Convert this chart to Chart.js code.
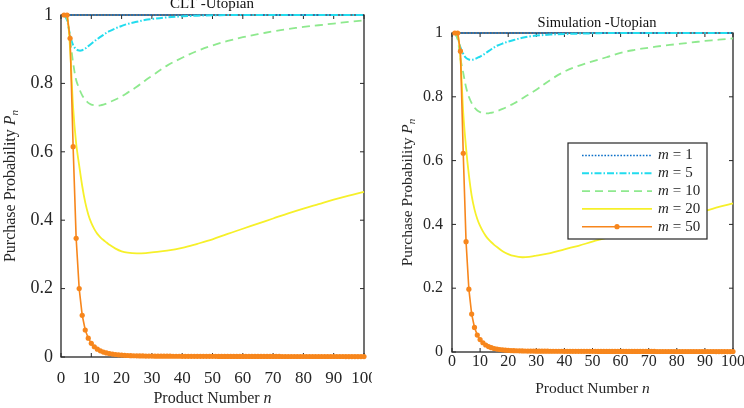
<!DOCTYPE html>
<html><head><meta charset="utf-8">
<script src="https://cdn.jsdelivr.net/npm/chart.js@4"></script>
<style>
html,body{margin:0;padding:0;background:#fff;width:744px;height:408px;overflow:hidden;position:relative;}
canvas{position:absolute;top:0;}
#c1{left:0;} #c2{left:380px;}
</style></head><body>
<canvas id="c1" width="372" height="408"></canvas>
<canvas id="c2" width="364" height="408"></canvas>
<script>
// ---------------- DATA ----------------
const xTickValues = [0,10,20,30,40,50,60,70,80,90,100];
const yTickValues = [0,0.2,0.4,0.6,0.8,1];
const yTickLabels = ['0','0.2','0.4','0.6','0.8','1'];
const legendM = ['1','5','10','20','50'];
const chartTitles = ['CLT -Utopian','Simulation -Utopian'];

// product numbers for the smooth curves
const nSmooth = [1,2,3,4,5,6,7,8,9,10,11,12,13,14,15,16,18,20,22,25,28,30,35,40,45,50,55,60,65,70,75,80,85,90,95,100];
// product numbers for the marked m=50 curve
const nAll = [1,2,3,4,5,6,7,8,9,10,11,12,13,14,15,16,17,18,19,20,21,22,23,24,25,26,27,28,29,30,
  31,32,33,34,35,36,37,38,39,40,41,42,43,44,45,46,47,48,49,50,51,52,53,54,55,56,57,58,59,60,
  61,62,63,64,65,66,67,68,69,70,71,72,73,74,75,76,77,78,79,80,81,82,83,84,85,86,87,88,89,90,
  91,92,93,94,95,96,97,98,99,100];

// CLT - Utopian
const cltM1  = [1,1,1,1,1,1,1,1,1,1,1,1,1,1,1,1,1,1,1,1,1,1,1,1,1,1,1,1,1,1,1,1,1,1,1,1];
const cltM5  = [1,0.985,0.94,0.912,0.9,0.896,0.897,0.902,0.909,0.916,0.923,0.93,0.936,0.942,0.948,0.953,0.961,0.968,0.974,0.98,0.986,0.988,0.993,0.996,0.998,0.999,1,1,1,1,1,1,1,1,1,1];
const cltM10 = [1,0.99,0.93,0.86,0.81,0.785,0.765,0.752,0.743,0.738,0.736,0.735,0.736,0.738,0.741,0.745,0.753,0.762,0.773,0.79,0.81,0.822,0.852,0.875,0.895,0.911,0.924,0.935,0.944,0.952,0.959,0.965,0.97,0.975,0.98,0.984];
const cltM20 = [1,1,0.9,0.73,0.625,0.56,0.5,0.452,0.417,0.392,0.374,0.36,0.35,0.342,0.335,0.328,0.317,0.309,0.305,0.303,0.304,0.306,0.311,0.319,0.331,0.344,0.36,0.375,0.39,0.405,0.42,0.434,0.447,0.46,0.472,0.483];
const cltM50 = [1,1,0.932,0.615,0.347,0.2,0.122,0.079,0.055,0.04,0.03,0.023,0.018,0.0145,0.012,0.01,0.0085,0.0073,0.0063,0.0055,
  0.0049,0.0044,0.004,0.0037,0.0034,0.0032,0.003,0.0028,0.0027,0.0026,0.0025,0.0025,0.0024,0.0024,0.0023,0.0023,0.0022,0.0022,0.0022,0.0021,
  0.0021,0.0021,0.002,0.002,0.002,0.002,0.0019,0.0019,0.0019,0.0019,0.0019,0.0018,0.0018,0.0018,0.0018,0.0018,0.0018,0.0017,0.0017,0.0017,
  0.0017,0.0017,0.0017,0.0017,0.0016,0.0016,0.0016,0.0016,0.0016,0.0016,0.0016,0.0016,0.0015,0.0015,0.0015,0.0015,0.0015,0.0015,0.0015,0.0015,
  0.0015,0.0015,0.0014,0.0014,0.0014,0.0014,0.0014,0.0014,0.0014,0.0014,0.0014,0.0014,0.0014,0.0013,0.0013,0.0013,0.0013,0.0013,0.0013,0.0013];

// Simulation - Utopian
const simM1  = [1,1,1,1,1,1,1,1,1,1,1,1,1,1,1,1,1,1,1,1,1,1,1,1,1,1,1,1,1,1,1,1,1,1,1,1];
const simM5  = [1,0.985,0.955,0.935,0.922,0.917,0.916,0.918,0.922,0.926,0.931,0.937,0.943,0.949,0.955,0.96,0.967,0.973,0.978,0.985,0.99,0.992,0.995,0.997,0.998,0.999,1,1,1,1,1,1,1,1,1,1];
const simM10 = [1,0.98,0.92,0.875,0.83,0.8,0.78,0.766,0.757,0.752,0.749,0.748,0.748,0.75,0.752,0.755,0.762,0.77,0.779,0.795,0.811,0.822,0.853,0.879,0.897,0.911,0.924,0.938,0.947,0.954,0.96,0.965,0.97,0.975,0.979,0.983];
const simM20 = [1,1,0.92,0.75,0.64,0.555,0.49,0.447,0.417,0.395,0.378,0.364,0.353,0.344,0.336,0.329,0.316,0.307,0.301,0.297,0.299,0.302,0.31,0.322,0.333,0.346,0.358,0.371,0.384,0.396,0.409,0.42,0.432,0.442,0.455,0.466];
const simM50 = [1,1,0.943,0.623,0.346,0.197,0.119,0.077,0.053,0.039,0.029,0.022,0.017,0.0135,0.011,0.0092,0.0078,0.0067,0.0058,0.0051,
  0.0046,0.0042,0.0039,0.0036,0.0034,0.0032,0.003,0.0029,0.0028,0.0027,0.0026,0.0026,0.0025,0.0025,0.0024,0.0024,0.0023,0.0023,0.0023,0.0022,
  0.0022,0.0022,0.0021,0.0021,0.0021,0.0021,0.002,0.002,0.002,0.002,0.002,0.0019,0.0019,0.0019,0.0019,0.0019,0.0019,0.0018,0.0018,0.0018,
  0.0018,0.0018,0.0018,0.0018,0.0017,0.0017,0.0017,0.0017,0.0017,0.0017,0.0017,0.0017,0.0016,0.0016,0.0016,0.0016,0.0016,0.0016,0.0016,0.0016,
  0.0016,0.0016,0.0015,0.0015,0.0015,0.0015,0.0015,0.0015,0.0015,0.0015,0.0015,0.0015,0.0015,0.0014,0.0014,0.0014,0.0014,0.0014,0.0014,0.0014];

// ---------------- STYLES ----------------
const AX = '#262626';
const SERIF = '"Liberation Serif","Times New Roman",serif';
const styles = [
  {color:'#0a6fc8', dash:[1.6,1.6], width:1.6, radius:0},
  {color:'#22dcee', dash:[7,2,1.5,2], width:2, radius:0},
  {color:'#8ee98e', dash:[8,5], width:1.8, radius:0},
  {color:'#f6f02a', dash:[], width:1.8, radius:0},
  {color:'#f7861c', dash:[], width:1.6, radius:2.6}
];

function pts(xs, ys){ return xs.map((x,i)=>({x:x, y:ys[i]})); }

function buildDatasets(series){
  return series.map((s,i)=>({
    label:'m = '+legendM[i],
    data:s,
    borderColor:styles[i].color,
    backgroundColor:styles[i].color,
    borderDash:styles[i].dash,
    borderWidth:styles[i].width,
    pointRadius:styles[i].radius,
    pointBorderWidth:0,
    pointBackgroundColor:styles[i].color,
    cubicInterpolationMode:'default',
    tension: i<4 ? 0.35 : 0,
    order: 5-i,
    clip: 8
  }));
}

function drawRich(ctx, parts, cx, y){
  let total=0;
  parts.forEach(p=>{ctx.font=p.f; p.w=ctx.measureText(p.t).width; total+=p.w;});
  let x = cx - total/2;
  ctx.textAlign='left'; ctx.textBaseline='alphabetic';
  parts.forEach(p=>{ctx.font=p.f; ctx.fillText(p.t, x, y+(p.dy||0)); x+=p.w;});
}

function makeChart(id, series, L){
  const framePlugin = {
    id:'frame'+id,
    beforeDatasetsDraw(chart){
      const {ctx, chartArea:a, scales:{x,y}} = chart;
      ctx.save();
      ctx.strokeStyle=AX; ctx.lineWidth=1.3;
      ctx.strokeRect(a.left, a.top, a.right-a.left, a.bottom-a.top);
      ctx.lineWidth=1;
      ctx.beginPath();
      xTickValues.forEach(v=>{const p=x.getPixelForValue(v);
        ctx.moveTo(p,a.bottom); ctx.lineTo(p,a.bottom-L.tick);
        ctx.moveTo(p,a.top); ctx.lineTo(p,a.top+L.tick);});
      yTickValues.forEach(v=>{const p=y.getPixelForValue(v);
        ctx.moveTo(a.left,p); ctx.lineTo(a.left+L.tick,p);
        ctx.moveTo(a.right,p); ctx.lineTo(a.right-L.tick,p);});
      ctx.stroke();
      ctx.restore();
    },
    afterDraw(chart){
      const {ctx, chartArea:a} = chart;
      ctx.save();
      ctx.fillStyle='#111';
      // title
      ctx.font = L.titleSize+'px '+SERIF;
      ctx.textAlign='center'; ctx.textBaseline='alphabetic';
      ctx.fillText(L.title, L.titleX, L.titleY);
      ctx.fillStyle=AX;
      // x axis title
      drawRich(ctx,[
        {t:'Product Number ', f:L.xAxSize+'px '+SERIF},
        {t:'n', f:'italic '+L.xAxSize+'px '+SERIF}
      ], (a.left+a.right)/2, L.xTitleY);
      // y axis title
      const fs=L.yAxSize;
      ctx.save();
      ctx.translate(L.yTitleX, (a.top+a.bottom)/2);
      ctx.rotate(-Math.PI/2);
      drawRich(ctx,[
        {t:'Purchase Probability ', f:fs+'px '+SERIF},
        {t:'P', f:'italic '+fs+'px '+SERIF},
        {t:'n', f:'italic '+Math.round(fs*0.7)+'px '+SERIF, dy:3}
      ], 0, 0);
      ctx.restore();
      // legend
      if (L.legend){
        const g=L.legend;
        ctx.fillStyle='#fff'; ctx.fillRect(g.x,g.y,g.w,g.h);
        ctx.strokeStyle=AX; ctx.lineWidth=1.2; ctx.strokeRect(g.x,g.y,g.w,g.h);
        for(let i=0;i<legendM.length;i++){
          const yy=g.y+g.first+i*g.step;
          const st=styles[i];
          ctx.save();
          ctx.strokeStyle=st.color; ctx.lineWidth=st.width; ctx.setLineDash(st.dash);
          ctx.beginPath(); ctx.moveTo(g.x+g.l0,yy); ctx.lineTo(g.x+g.l1,yy); ctx.stroke();
          if(st.radius){ctx.fillStyle=st.color; ctx.beginPath(); ctx.arc(g.x+(g.l0+g.l1)/2,yy,st.radius,0,Math.PI*2); ctx.fill();}
          ctx.restore();
          ctx.fillStyle=AX;
          ctx.textAlign='left'; ctx.textBaseline='middle';
          let tx=g.x+g.tx;
          ctx.font='italic '+g.fs+'px '+SERIF; ctx.fillText('m',tx,yy); tx+=ctx.measureText('m').width+4;
          ctx.font=g.fs+'px '+SERIF; ctx.fillText('=',tx,yy); tx+=ctx.measureText('=').width+4;
          ctx.fillText(legendM[i],tx,yy);
        }
      }
      ctx.restore();
    }
  };

  return new Chart(document.getElementById(id), {
    type:'line',
    data:{datasets: buildDatasets(series)},
    options:{
      responsive:false, animation:false, devicePixelRatio:1,
      layout:{padding:{top:L.top, right:L.right, left:0, bottom:0}},
      plugins:{legend:{display:false}, title:{display:false}, tooltip:{enabled:false}},
      events:[],
      scales:{
        x:{type:'linear', min:0, max:100,
          grid:{display:false, drawTicks:false}, border:{display:false},
          afterBuildTicks:s=>{s.ticks=xTickValues.map(v=>({value:v}));},
          afterFit:s=>{s.height=L.xH; s.paddingLeft=0; s.paddingRight=0;},
          ticks:{autoSkip:false, maxRotation:0, padding:L.xPad, color:AX, font:{family:SERIF, size:L.xFont},
            callback:(v,i)=>String(xTickValues[i])}},
        y:{type:'linear', min:0, max:1,
          grid:{display:false, drawTicks:false}, border:{display:false},
          afterBuildTicks:s=>{s.ticks=yTickValues.map(v=>({value:v}));},
          afterFit:s=>{s.width=L.yW; s.paddingTop=0; s.paddingBottom=0;},
          ticks:{padding:L.yPad, color:AX, font:{family:SERIF, size:L.yFont},
            callback:(v,i)=>yTickLabels[i]}}
      }
    },
    plugins:[framePlugin]
  });
}

makeChart('c1', [pts(nSmooth,cltM1), pts(nSmooth,cltM5), pts(nSmooth,cltM10), pts(nSmooth,cltM20), pts(nAll,cltM50)], {
  top:15, right:8, xH:51, yW:61, xPad:11, yPad:8, xFont:17, yFont:18, tick:4,
  title:chartTitles[0], titleSize:15, titleX:212, titleY:7.5,
  xAxSize:16, yAxSize:16, xTitleY:403, yTitleX:15
});
makeChart('c2', [pts(nSmooth,simM1), pts(nSmooth,simM5), pts(nSmooth,simM10), pts(nSmooth,simM20), pts(nAll,simM50)], {
  top:33, right:11, xH:56, yW:72, xPad:0, yPad:9, xFont:16, yFont:16, tick:4,
  title:chartTitles[1], titleSize:14.5, titleX:217, titleY:27,
  xAxSize:15.5, yAxSize:15.5, xTitleY:393, yTitleX:31.5,
  legend:{x:188, y:143, w:139, h:96, first:12.5, step:17.8, l0:14, l1:84, tx:90, fs:15}
});
</script>
</body></html>
